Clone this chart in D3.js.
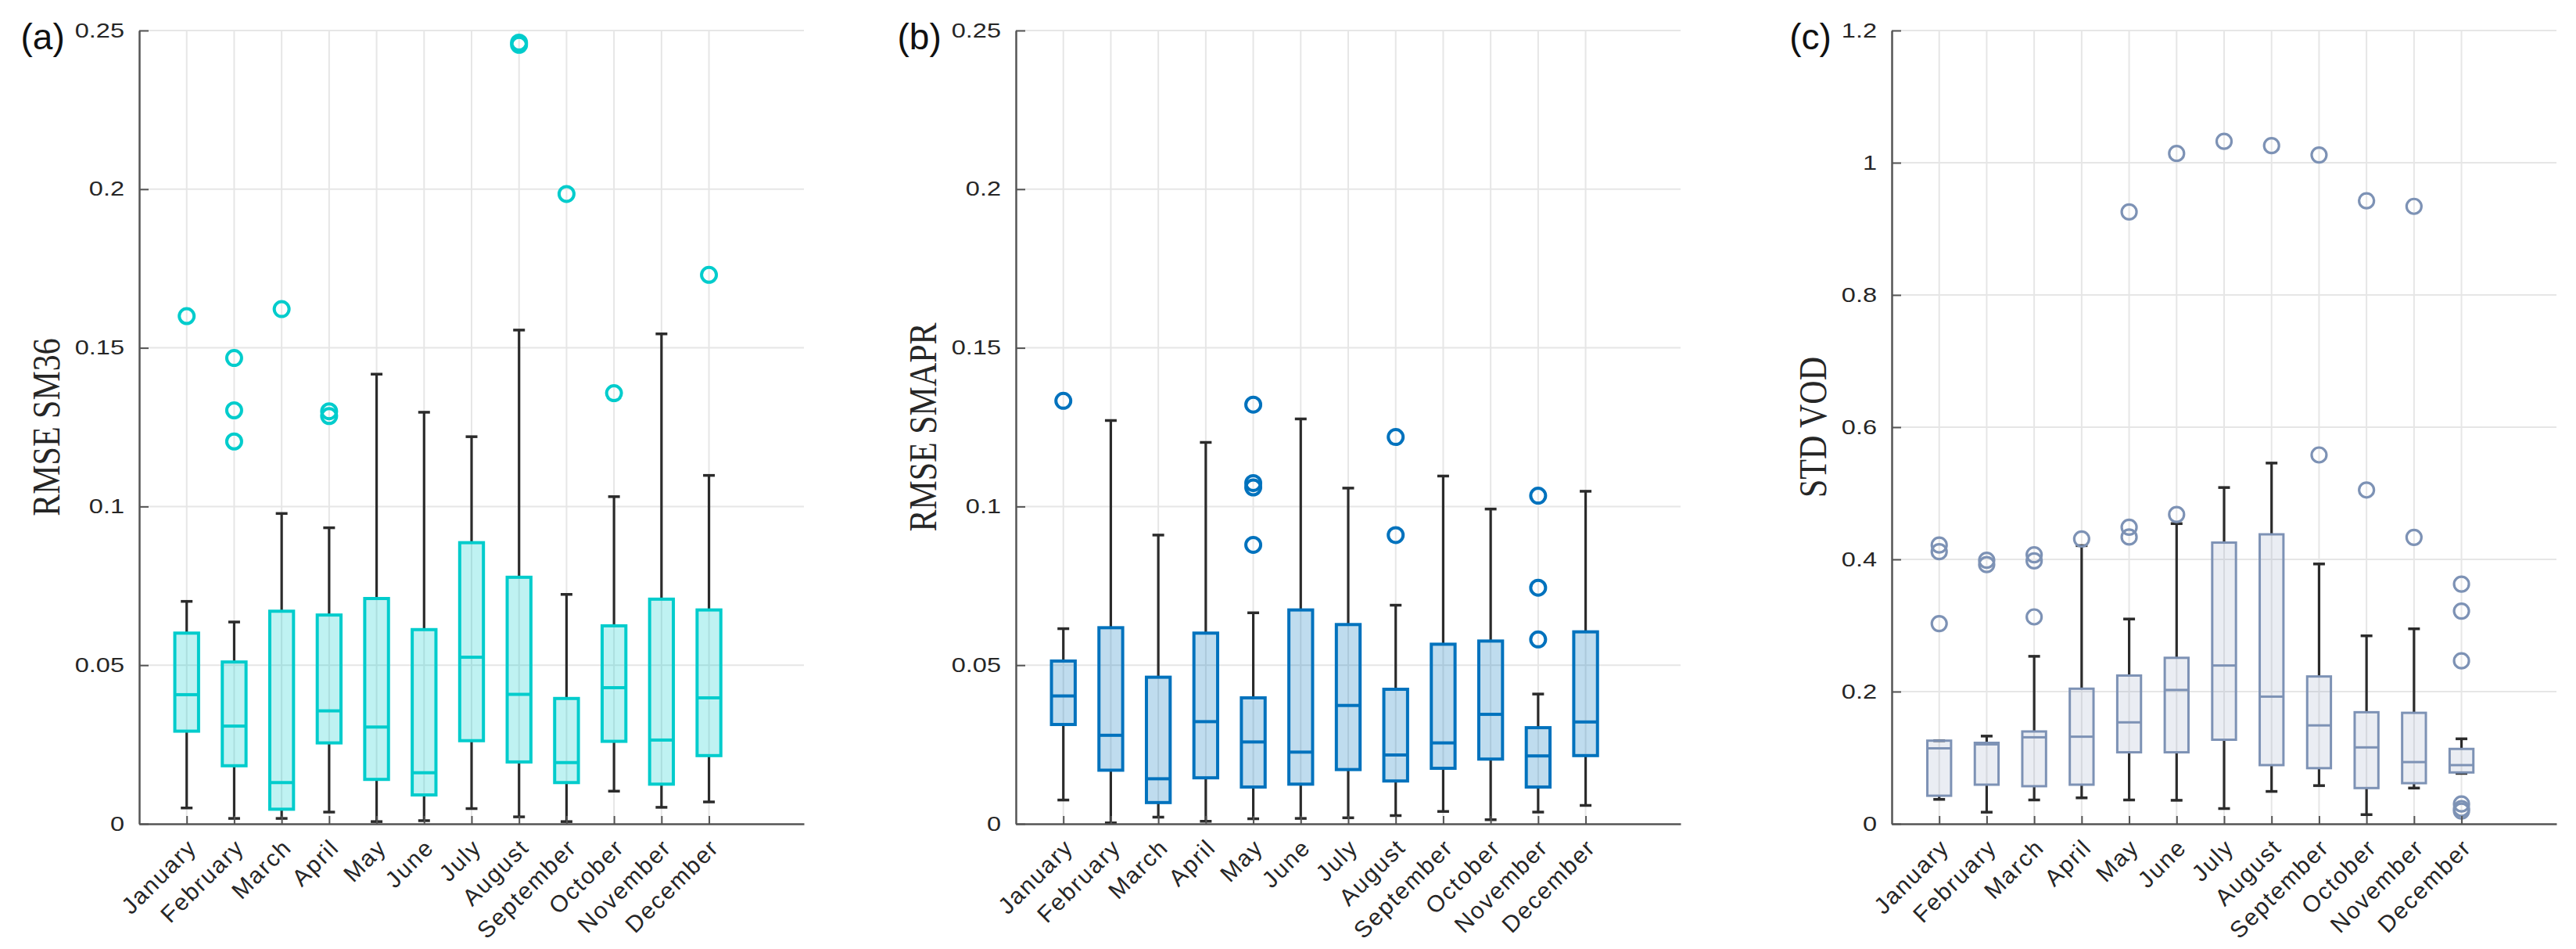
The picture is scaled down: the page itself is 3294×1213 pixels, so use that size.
<!DOCTYPE html>
<html>
<head>
<meta charset="utf-8">
<script src="https://cdn.jsdelivr.net/npm/d3@7"></script>
<style>
  body { margin: 0; background: #fff; }
  svg { display: block; }
</style>
</head>
<body>
<div id="chart"></div>
<script>
const months = ["January", "February", "March", "April", "May", "June", "July",
  "August", "September", "October", "November", "December"];

// (a) RMSE SM36
const sm36Low = [0.0050, 0.0017, 0.0017, 0.0037, 0.0007, 0.0010, 0.0048, 0.0022, 0.0007, 0.0103, 0.0052, 0.0069];
const sm36Q1 = [0.0292, 0.0183, 0.0046, 0.0255, 0.0140, 0.0091, 0.0262, 0.0195, 0.0130, 0.0260, 0.0125, 0.0215];
const sm36Med = [0.0407, 0.0308, 0.0130, 0.0356, 0.0305, 0.0161, 0.0525, 0.0408, 0.0193, 0.0429, 0.0264, 0.0397];
const sm36Q3 = [0.0601, 0.0510, 0.0670, 0.0658, 0.0710, 0.0612, 0.0886, 0.0777, 0.0395, 0.0624, 0.0708, 0.0674];
const sm36High = [0.0701, 0.0636, 0.0978, 0.0933, 0.1417, 0.1297, 0.1220, 0.1556, 0.0723, 0.1031, 0.1544, 0.1098];
const sm36Out = [[0.1600], [0.1468, 0.1303, 0.1205], [0.1622], [0.1300, 0.1285], [], [], [],
  [0.2455, 0.2462], [0.1985], [0.1357], [], [0.1730]];

// (b) RMSE SMAPR
const smaprLow = [0.0075, 0.0003, 0.0021, 0.0008, 0.0016, 0.0017, 0.0019, 0.0026, 0.0039, 0.0013, 0.0037, 0.0058];
const smaprQ1 = [0.0313, 0.0169, 0.0067, 0.0145, 0.0116, 0.0125, 0.0171, 0.0135, 0.0175, 0.0204, 0.0116, 0.0215];
const smaprMed = [0.0403, 0.0279, 0.0142, 0.0322, 0.0258, 0.0226, 0.0373, 0.0217, 0.0255, 0.0345, 0.0214, 0.0321];
const smaprQ3 = [0.0513, 0.0618, 0.0462, 0.0601, 0.0397, 0.0674, 0.0628, 0.0424, 0.0566, 0.0576, 0.0303, 0.0605];
const smaprHigh = [0.0615, 0.1271, 0.0910, 0.1202, 0.0665, 0.1276, 0.1058, 0.0689, 0.1096, 0.0992, 0.0409, 0.1048];
const smaprOut = [[0.1333], [], [], [], [0.1321, 0.1074, 0.1060, 0.0879], [], [],
  [0.1219, 0.0910], [], [], [0.1034, 0.0744, 0.0581], []];

// (c) STD VOD
const vodLow = [0.0370, 0.0176, 0.0361, 0.0393, 0.0361, 0.0356, 0.0231, 0.0490, 0.0578, 0.0139, 0.0541, 0.0763];
const vodQ1 = [0.0425, 0.0592, 0.0569, 0.0592, 0.1082, 0.1082, 0.1272, 0.0888, 0.0842, 0.0541, 0.0615, 0.0777];
const vodMed = [0.1142, 0.1202, 0.1309, 0.1318, 0.1535, 0.2025, 0.2395, 0.1924, 0.1489, 0.1156, 0.0934, 0.0888];
const vodQ3 = [0.1258, 0.1225, 0.1397, 0.2044, 0.2243, 0.2511, 0.4254, 0.4379, 0.2229, 0.1688, 0.1679, 0.1133];
const vodHigh = [0.1258, 0.1327, 0.2534, 0.4208, 0.3098, 0.4541, 0.5087, 0.5457, 0.3931, 0.2844, 0.2950, 0.1286];
const vodOut = [[0.4217, 0.4116, 0.3029], [0.3986, 0.3922], [0.4070, 0.3977, 0.3130], [0.4310],
  [0.9255, 0.4486, 0.4338], [1.0140, 0.4680], [1.0323], [1.0258], [1.0117, 0.5580],
  [0.9424, 0.5050], [0.9340, 0.4333], [0.3626, 0.3218, 0.2465, 0.0300, 0.0231, 0.0194]];

const rmseTicks = [0, 0.05, 0.1, 0.15, 0.2, 0.25];
const vodTicks = [0, 0.2, 0.4, 0.6, 0.8, 1, 1.2];

const width = 3294, height = 1213;
const plotTop = 39, plotBottom = 1053, plotWidth = 850;
const textColor = "#262626";

let svg = d3.select("#chart").append("svg")
  .attr("width", width)
  .attr("height", height);

function drawPanel(p) {
  let x = d3.scaleLinear().domain([0, 14]).range([p.left, p.left + plotWidth]);
  let y = d3.scaleLinear().domain([0, p.yMax]).range([plotBottom, plotTop]);
  let step = x(1) - x(0);
  let g = svg.append("g");

  // grid
  g.append("g").selectAll("line.hg")
    .data(p.ticks.filter(t => t > 0))
    .enter().append("line")
    .attr("x1", x(0)).attr("x2", x(14))
    .attr("y1", d => y(d)).attr("y2", d => y(d))
    .style("stroke", "#e6e6e6").style("stroke-width", 2);
  g.append("g").selectAll("line.vg")
    .data(d3.range(1, 13))
    .enter().append("line")
    .attr("x1", d => x(d)).attr("x2", d => x(d))
    .attr("y1", y(0)).attr("y2", y(p.yMax))
    .style("stroke", "#e6e6e6").style("stroke-width", 2);

  let data = months.map((m, i) => ({
    pos: i + 1, low: p.low[i], q1: p.q1[i], med: p.med[i], q3: p.q3[i], high: p.high[i], out: p.out[i]
  }));

  let box = g.selectAll(".box").data(data).enter().append("g").attr("class", "box");
  let bw = step * 0.5, cap = 7.5;

  // whiskers
  box.append("line")
    .attr("x1", d => x(d.pos)).attr("x2", d => x(d.pos))
    .attr("y1", d => y(d.high)).attr("y2", d => y(d.q3))
    .style("stroke", "#2b2b2b").style("stroke-width", 3.2);
  box.append("line")
    .attr("x1", d => x(d.pos)).attr("x2", d => x(d.pos))
    .attr("y1", d => y(d.q1)).attr("y2", d => y(d.low))
    .style("stroke", "#2b2b2b").style("stroke-width", 3.2);
  box.append("line")
    .attr("x1", d => x(d.pos) - cap).attr("x2", d => x(d.pos) + cap)
    .attr("y1", d => y(d.high)).attr("y2", d => y(d.high))
    .style("stroke", "#2b2b2b").style("stroke-width", 3.5);
  box.append("line")
    .attr("x1", d => x(d.pos) - cap).attr("x2", d => x(d.pos) + cap)
    .attr("y1", d => y(d.low)).attr("y2", d => y(d.low))
    .style("stroke", "#2b2b2b").style("stroke-width", 3.5);

  // boxes
  box.append("rect")
    .attr("x", d => x(d.pos) - bw / 2)
    .attr("width", bw)
    .attr("y", d => y(d.q3))
    .attr("height", d => y(d.q1) - y(d.q3))
    .style("fill", p.color).style("fill-opacity", p.fillOpacity)
    .style("stroke", p.color).style("stroke-width", p.boxStroke);
  box.append("line")
    .attr("x1", d => x(d.pos) - bw / 2).attr("x2", d => x(d.pos) + bw / 2)
    .attr("y1", d => y(d.med)).attr("y2", d => y(d.med))
    .style("stroke", p.color).style("stroke-width", p.boxStroke);

  // outliers
  box.selectAll("circle")
    .data(d => d.out.map(v => ({ pos: d.pos, v: v })))
    .enter().append("circle")
    .attr("cx", d => x(d.pos)).attr("cy", d => y(d.v))
    .attr("r", 9.5)
    .style("fill", "none")
    .style("stroke", p.color).style("stroke-width", p.outStroke);

  // axes
  let yAxis = g.append("g")
    .attr("transform", "translate(" + x(0) + ",0)")
    .call(d3.axisLeft(y).tickValues(p.ticks).tickFormat(p.fmt)
      .tickSizeInner(-12).tickSizeOuter(0).tickPadding(19 / 1.3));
  yAxis.select(".domain").style("stroke", "#555").style("stroke-width", 2.5);
  yAxis.selectAll(".tick line").style("stroke", "#555").style("stroke-width", 2);
  yAxis.selectAll("text")
    .attr("transform", "scale(1.3,1)")
    .style("font-family", "Liberation Sans, Arial, sans-serif")
    .style("font-size", "25px")
    .style("fill", textColor);

  let xAxis = g.append("g")
    .attr("transform", "translate(0," + y(0) + ")")
    .call(d3.axisBottom(x).tickValues(d3.range(1, 13)).tickFormat(i => months[i - 1])
      .tickSizeInner(-10).tickSizeOuter(0));
  xAxis.select(".domain").style("stroke", "#555").style("stroke-width", 2.5);
  xAxis.selectAll(".tick line").style("stroke", "#555").style("stroke-width", 2);
  xAxis.selectAll("text")
    .attr("x", 0).attr("y", 0).attr("dy", 0)
    .attr("transform", "translate(14,32) rotate(-45)")
    .attr("text-anchor", "end")
    .style("font-family", "Liberation Sans, Arial, sans-serif")
    .style("font-size", "30px")
    .style("letter-spacing", "2px")
    .style("fill", textColor);

  // y label, placed left of the widest tick label
  let labelLeft = d3.min(yAxis.selectAll("text").nodes(), n => n.getBoundingClientRect().left);
  svg.append("text")
    .attr("transform", "translate(" + (labelLeft - 20) + "," + ((plotTop + plotBottom) / 2) + ") scale(1.2,1) rotate(-90)")
    .attr("text-anchor", "middle")
    .style("font-family", "Liberation Serif, Times New Roman, serif")
    .style("font-size", "42px")
    .style("fill", textColor)
    .text(p.yLabel);

  // panel letter next to the top tick label
  let topTick = yAxis.selectAll("text").filter(d => d === p.yMax).node().getBoundingClientRect();
  svg.append("text")
    .attr("x", topTick.left - 13)
    .attr("y", 63)
    .attr("text-anchor", "end")
    .style("font-family", "Liberation Sans, Arial, sans-serif")
    .style("font-size", "46px")
    .style("fill", "#111")
    .text(p.tag);
}

drawPanel({
  left: 178, yMax: 0.25, ticks: rmseTicks, fmt: d => d === 0 ? "0" : String(d),
  low: sm36Low, q1: sm36Q1, med: sm36Med, q3: sm36Q3, high: sm36High, out: sm36Out,
  color: "#00cccc", fillOpacity: 0.25, boxStroke: 4, outStroke: 4,
  yLabel: "RMSE SM36", tag: "(a)"
});

drawPanel({
  left: 1299, yMax: 0.25, ticks: rmseTicks, fmt: d => d === 0 ? "0" : String(d),
  low: smaprLow, q1: smaprQ1, med: smaprMed, q3: smaprQ3, high: smaprHigh, out: smaprOut,
  color: "#0072bd", fillOpacity: 0.25, boxStroke: 4, outStroke: 4,
  yLabel: "RMSE SMAPR", tag: "(b)"
});

drawPanel({
  left: 2419, yMax: 1.2, ticks: vodTicks, fmt: d => String(d),
  low: vodLow, q1: vodQ1, med: vodMed, q3: vodQ3, high: vodHigh, out: vodOut,
  color: "#7d92b5", fillOpacity: 0.16, boxStroke: 3, outStroke: 3.2,
  yLabel: "STD VOD", tag: "(c)"
});
</script>
</body>
</html>
